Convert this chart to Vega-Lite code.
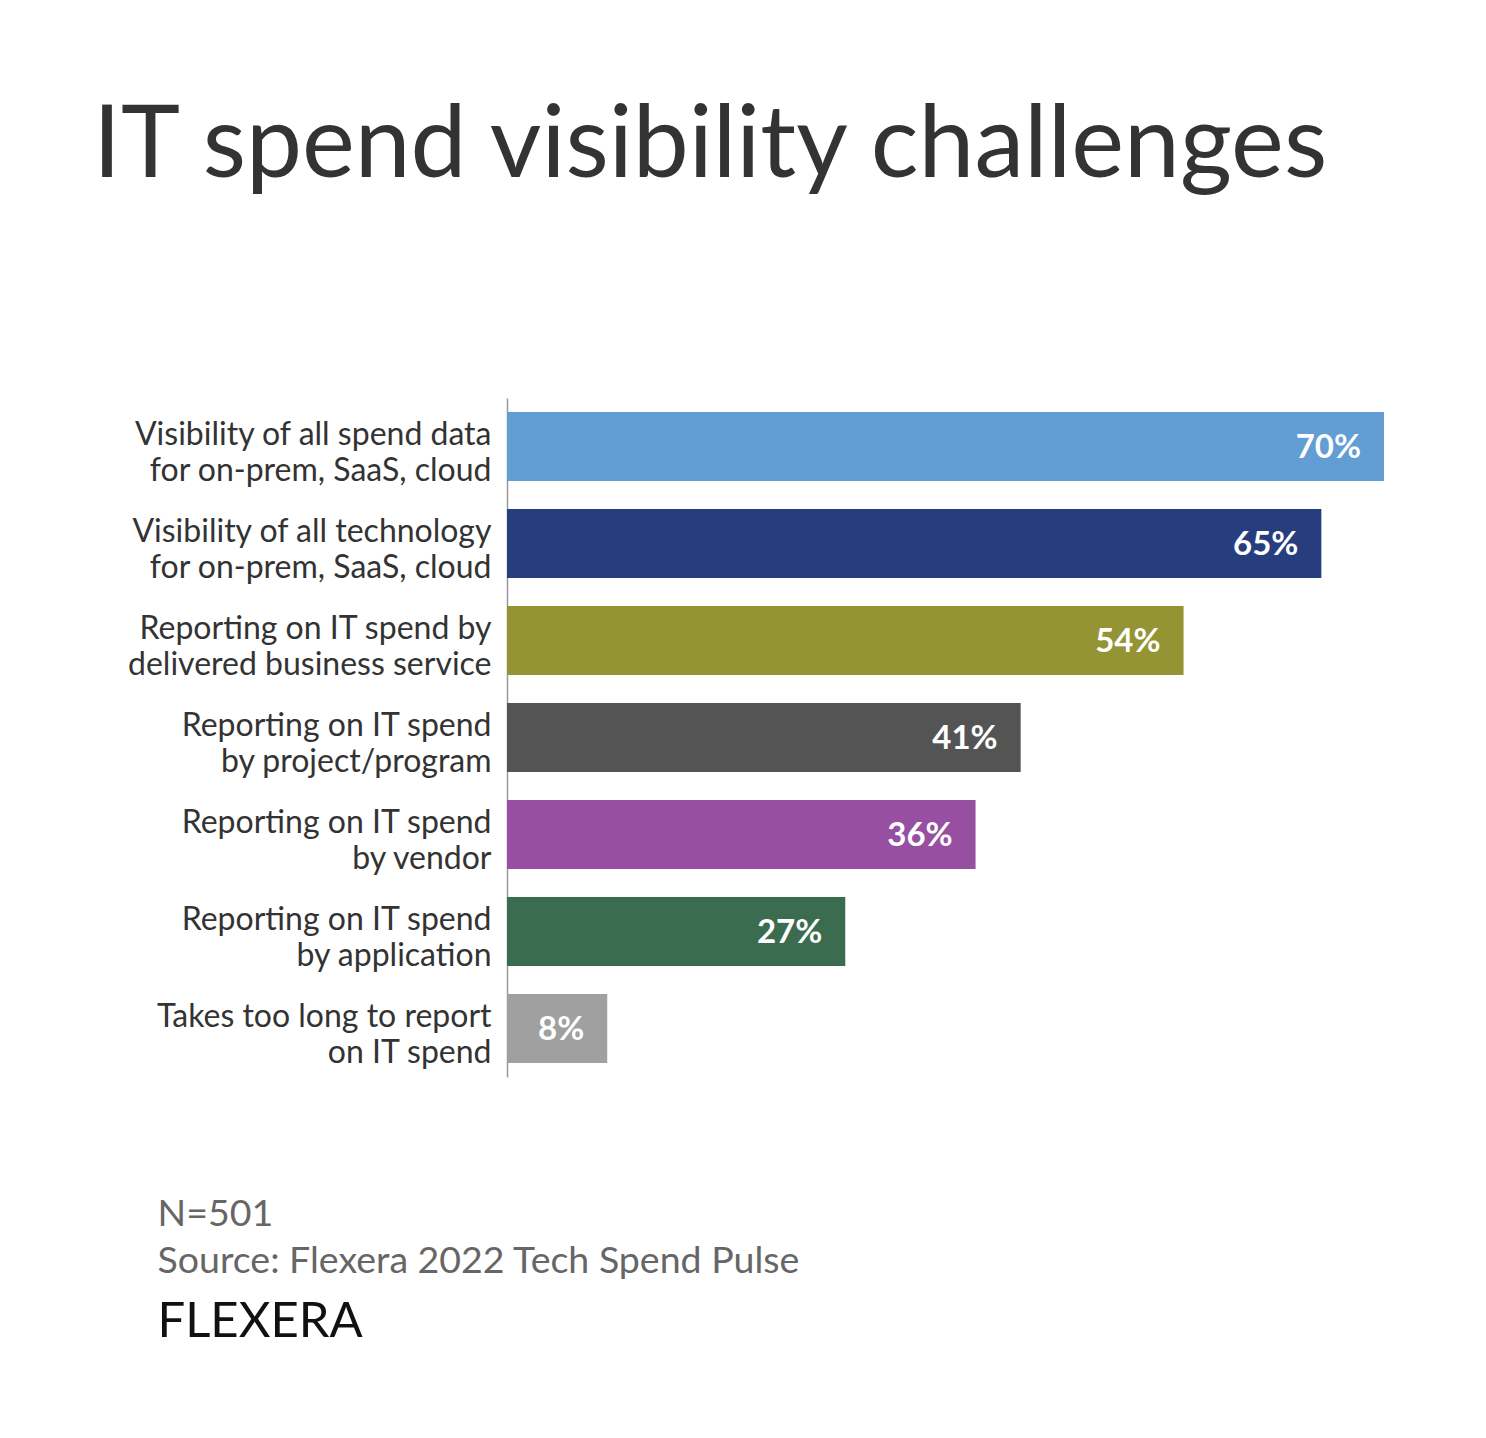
{
  "$schema": "https://vega.github.io/schema/vega-lite/v6.json",
  "autosize": {"type": "none"},
  "padding": {"left": 507, "top": 398, "right": 102, "bottom": 361},
  "width": 877,
  "height": 679,
  "background": "white",
  "config": {"view": {"stroke": null}, "font": "Lato"},
  "title": {
    "text": "IT spend visibility challenges",
    "anchor": "start",
    "frame": "group",
    "dx": -414,
    "offset": 121,
    "baseline": "alphabetic",
    "fontSize": 100,
    "fontWeight": "normal",
    "color": "#333333",
    "font": "Lato"
  },
  "data": {
    "values": [
      {"item": "Visibility of all spend data|for on-prem, SaaS, cloud", "value": 0.70, "label": "70%", "color": "#629dd3"},
      {"item": "Visibility of all technology|for on-prem, SaaS, cloud", "value": 0.65, "label": "65%", "color": "#273e7e"},
      {"item": "Reporting on IT spend by|delivered business service", "value": 0.54, "label": "54%", "color": "#959435"},
      {"item": "Reporting on IT spend|by project/program", "value": 0.41, "label": "41%", "color": "#545454"},
      {"item": "Reporting on IT spend|by vendor", "value": 0.374, "label": "36%", "color": "#9750a1"},
      {"item": "Reporting on IT spend|by application", "value": 0.27, "label": "27%", "color": "#3b6c50"},
      {"item": "Takes too long to report|on IT spend", "value": 0.08, "label": "8%", "color": "#a0a0a0"}
    ]
  },
  "encoding": {
    "y": {
      "field": "item",
      "type": "nominal",
      "sort": null,
      "scale": {"paddingInner": 0.29, "paddingOuter": 0.145},
      "axis": {
        "title": "FLEXERA",
        "titleAngle": 0,
        "titleX": -350,
        "titleY": 938,
        "titleAlign": "left",
        "titleBaseline": "alphabetic",
        "titleFontSize": 49,
        "titleFontWeight": "normal",
        "titleColor": "#111111",
        "titleFont": "Lato",
        "labelExpr": "split(datum.label, '|')",
        "labelFontSize": 32,
        "labelLineHeight": 36,
        "labelColor": "#333333",
        "labelPadding": 16,
        "labelOffset": -12,
        "labelLimit": 500,
        "ticks": false,
        "domainColor": "#999999",
        "domainWidth": 1.5
      }
    },
    "x": {
      "field": "value",
      "type": "quantitative",
      "scale": {"domain": [0, 0.7], "nice": false},
      "axis": {
        "title": ["N=501", "Source: Flexera 2022 Tech Spend Pulse"],
        "titleX": -350,
        "titleY": 148,
        "titleAlign": "left",
        "titleAnchor": "start",
        "titleBaseline": "alphabetic",
        "titleFontSize": 37.5,
        "titleFontWeight": "normal",
        "titleLineHeight": 47,
        "titleColor": "#666666",
        "labels": false,
        "ticks": false,
        "domain": false,
        "grid": false
      }
    }
  },
  "layer": [
    {
      "mark": {"type": "bar"},
      "encoding": {"color": {"field": "color", "type": "nominal", "scale": null, "legend": null}}
    },
    {
      "mark": {"type": "text", "align": "right", "baseline": "middle", "dx": -23, "dy": 1, "fontSize": 33, "fontWeight": "bold", "color": "white"},
      "encoding": {"text": {"field": "label", "type": "nominal"}}
    }
  ]
}
